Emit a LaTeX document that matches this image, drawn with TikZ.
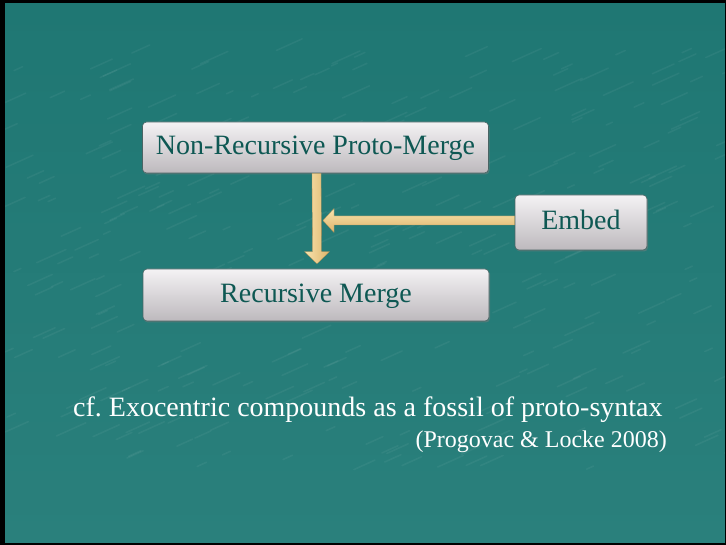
\documentclass[tikz,border=0pt]{standalone}
\usepackage{fontspec}
\setmainfont{Liberation Serif}
\usetikzlibrary{calc,shadows}

\definecolor{bgtop}{HTML}{1F7773}
\definecolor{bgmid}{HTML}{3E9190}
\definecolor{bgbot}{HTML}{2A807C}
\definecolor{boxtext}{HTML}{0E5853}
\definecolor{boxtop}{HTML}{F4F2F4}
\definecolor{boxbot}{HTML}{BDB9BD}
\definecolor{boxline}{HTML}{4A6464}
\definecolor{goldlight}{HTML}{F8E4AE}
\definecolor{golddark}{HTML}{DDB36A}

\tikzset{
  mergebox/.style={
    rounded corners=4pt, draw=boxline, line width=0.6pt,
    top color=boxtop, bottom color=boxbot,
    drop shadow={shadow xshift=1pt, shadow yshift=-1.5pt, opacity=.45},
    text=boxtext, font=\fontsize{28}{32}\selectfont,
    text height=19pt, text depth=4pt,
    inner sep=0pt, align=center},
  goldarrow/.style={draw=golddark!80!black, line width=0.3pt},
  slidetext/.style={text=white, inner sep=0pt}
}

\begin{document}
\begin{tikzpicture}[x=1pt,y=-1pt]
  \useasboundingbox (0,0) rectangle (726,545);
  % slide background and frame
  \shade[top color=bgtop, middle color=bgmid, bottom color=bgbot]
    (0,0) rectangle (726,545);
  % faint stone grain
  \begin{scope}
    \clip (0,0) rectangle (726,545);
    \pgfmathsetseed{7}
    \foreach \i in {1,...,320}{
      \pgfmathsetmacro{\gx}{rnd*726}
      \pgfmathsetmacro{\gy}{50+rnd*420}
      \pgfmathsetmacro{\gl}{6+rnd*24}
      \draw[white, opacity=0.05, line width=1.5pt, line cap=round]
        (\gx,\gy) -- ++(\gl,-0.45*\gl);
    }
  \end{scope}
  \fill[black] (0,0) rectangle (5,545);
  \fill[black] (0,0) rectangle (726,3);
  \fill[black] (0,543) rectangle (726,545);
  \fill[black] (724.5,0) rectangle (726,545);

  % boxes
  \node[mergebox, minimum width=346pt, minimum height=51pt]
    (proto) at (315.5,147.5) {Non-Recursive Proto-Merge};
  \node[mergebox, minimum width=346pt, minimum height=52pt]
    (rec) at (316,295) {Recursive Merge};
  \node[mergebox, minimum width=132pt, minimum height=55pt]
    (embed) at (581,222.5) {Embed};

  % vertical block arrow: proto-merge to recursive merge
  \coordinate (vA) at ($(proto.south)+(1,0)$);
  \coordinate (vT) at ($(rec.north)+(1,-5)$);
  \shade[goldarrow, left color=goldlight, right color=golddark]
    ($(vA)+(-4.5,0)$) -- ($(vA)+(4.5,0)$) -- ($(vT)+(4.5,-12)$)
    -- ($(vT)+(12.5,-12)$) -- (vT) -- ($(vT)+(-12.5,-12)$)
    -- ($(vT)+(-4.5,-12)$) -- cycle;

  % horizontal block arrow: embed into the vertical arrow
  \coordinate (hE) at ($(embed.west)+(0,-2)$);
  \coordinate (hT) at ($(vA)+(6.5,0)$);
  \coordinate (hTip) at (hT |- hE);
  \shade[goldarrow, top color=goldlight, bottom color=golddark]
    ($(hE)+(0,-4.5)$) -- ($(hTip)+(11,-4.5)$) -- ($(hTip)+(11,-12)$)
    -- (hTip) -- ($(hTip)+(11,12)$) -- ($(hTip)+(11,4.5)$)
    -- ($(hE)+(0,4.5)$) -- cycle;

  % caption lines
  \node[slidetext, anchor=base west, font=\fontsize{28}{32}\selectfont]
    (cf) at (73,417) {cf.\ Exocentric compounds as a fossil of proto-syntax};
  \node[slidetext, anchor=base east, font=\fontsize{24}{28}\selectfont]
    (ref) at (667,447) {(Progovac \& Locke 2008)};
\end{tikzpicture}
\end{document}
